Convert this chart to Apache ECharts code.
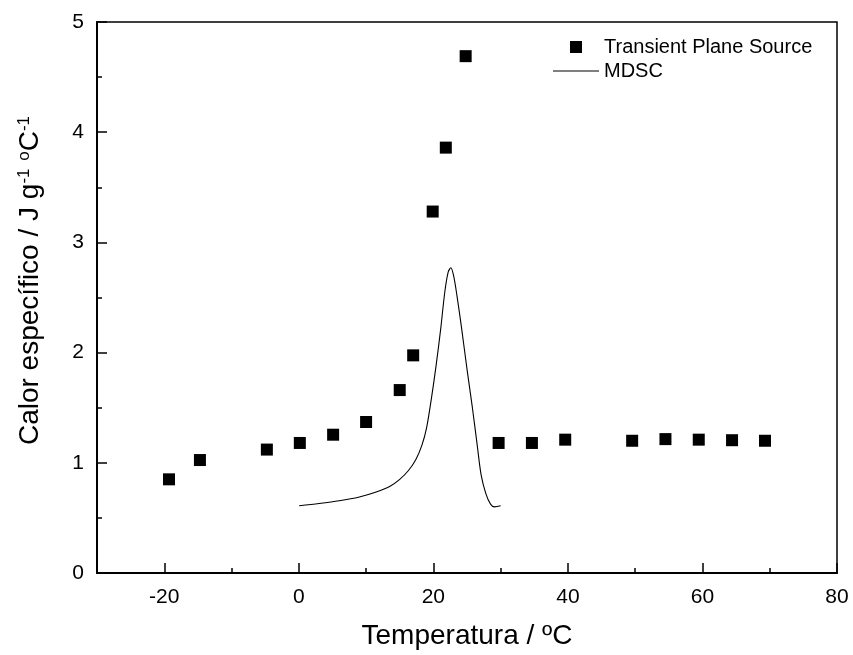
<!DOCTYPE html>
<html>
<head>
<meta charset="utf-8">
<script src="https://cdn.jsdelivr.net/npm/echarts@6/dist/echarts.min.js"></script>
<style>
  html, body { margin: 0; padding: 0; background: #fff; }
  #chart { width: 853px; height: 655px; }
</style>
</head>
<body>
<div id="chart"></div>
<script>
// Transient Plane Source measurements: temperature (ºC) and specific heat (J g-1 ºC-1)
const tpsTemp = [-19.3, -14.7, -4.75, 0.15, 5.1, 10.0, 15.0, 17.0, 19.9, 21.85, 24.8,
                 29.7, 34.65, 39.6, 49.55, 54.5, 59.45, 64.4, 69.3];
const tpsCp   = [0.85, 1.025, 1.12, 1.18, 1.255, 1.37, 1.66, 1.975, 3.28, 3.86, 4.69,
                 1.18, 1.18, 1.21, 1.20, 1.215, 1.21, 1.205, 1.20];

// MDSC trace
const mdscTemp = [0.05, 3.0, 6.0, 9.0, 11.5, 13.5, 15.0, 16.3, 17.4, 18.3, 19.0, 19.7,
                  20.4, 21.1, 21.7, 22.2, 22.6, 23.0, 23.5, 24.2, 25.0, 25.8, 26.5,
                  27.1, 27.8, 28.5, 29.1, 30.0];
const mdscCp   = [0.61, 0.63, 0.655, 0.69, 0.735, 0.785, 0.85, 0.93, 1.03, 1.16, 1.32, 1.58,
                  1.88, 2.22, 2.55, 2.73, 2.77, 2.70, 2.52, 2.22, 1.85, 1.50, 1.17,
                  0.89, 0.72, 0.625, 0.60, 0.61];

// Axis ticks
const xMajorTicks = [-20, 0, 20, 40, 60, 80];
const xMinorTicks = [-10, 10, 30, 50, 70];

const FONT = '"Liberation Sans", Arial, sans-serif';

const chart = echarts.init(document.getElementById('chart'), null, { renderer: 'canvas' });

const zip = (a, b) => a.map((v, i) => [v, b[i]]);

// legend icons: a 12px square centred in a 46px slot, and a thin horizontal rule
const squareIcon = 'path://M0,6L0,6.01M17,0L29,0L29,12L17,12ZM46,6L46,6.01';
const ruleIcon = 'path://M0,0L0,0.01M0,5.4L46,5.4L46,6.6L0,6.6ZM46,12L46,11.99';

chart.setOption({
  backgroundColor: '#fff',
  animation: false,
  textStyle: { fontFamily: FONT, color: '#000' },
  grid: {
    left: 97, right: 16, top: 22, bottom: 81,
    show: true, borderColor: '#000', borderWidth: 1.5, backgroundColor: 'transparent'
  },
  legend: {
    orient: 'vertical',
    left: 553, top: 37,
    padding: 0,
    itemWidth: 46, itemHeight: 12, itemGap: 4,
    textStyle: { fontSize: 20, color: '#000', fontFamily: FONT },
    data: [
      { name: 'Transient Plane Source', icon: squareIcon, itemStyle: { color: '#000', borderWidth: 0, opacity: 1 } },
      { name: 'MDSC', icon: ruleIcon, itemStyle: { color: '#000', borderWidth: 0, opacity: 1 } }
    ]
  },
  xAxis: [
    {
      type: 'value', min: -30, max: 80,
      name: 'Temperatura / ºC',
      nameLocation: 'middle', nameGap: 49,
      nameTextStyle: { fontSize: 28, color: '#000', fontFamily: FONT },
      axisLine: { show: true, onZero: false, lineStyle: { color: '#000', width: 2 } },
      axisTick: { show: true, inside: true, length: 10, customValues: xMajorTicks,
                  lineStyle: { color: '#000', width: 1.5 } },
      axisLabel: { show: true, customValues: xMajorTicks, fontSize: 21, color: '#000',
                   margin: 14, fontFamily: FONT },
      splitLine: { show: false }
    },
    {
      type: 'value', min: -30, max: 80, position: 'bottom',
      axisLine: { show: false, onZero: false },
      axisTick: { show: true, inside: true, length: 5, customValues: xMinorTicks,
                  lineStyle: { color: '#000', width: 1.5 } },
      axisLabel: { show: false },
      splitLine: { show: false }
    }
  ],
  yAxis: {
    type: 'value', min: 0, max: 5, interval: 1,
    name: 'Calor específico / J g{sup|-1} {sup|o}C{sup|-1}',
    nameLocation: 'middle', nameGap: 53,
    nameTextStyle: {
      fontSize: 28, color: '#000', fontFamily: FONT,
      padding: [0, 0, 0, 34],
      rich: {
        sup: { fontSize: 17, color: '#000', fontFamily: FONT, verticalAlign: 'top',
               padding: [0, 0, 10, 0] }
      }
    },
    axisLine: { show: true, onZero: false, lineStyle: { color: '#000', width: 2 } },
    axisTick: { show: true, inside: true, length: 10, lineStyle: { color: '#000', width: 1.5 } },
    minorTick: { show: true, splitNumber: 2, length: 5, lineStyle: { color: '#000', width: 1.5 } },
    axisLabel: { fontSize: 21, color: '#000', margin: 13, fontFamily: FONT },
    splitLine: { show: false }
  },
  series: [
    {
      name: 'Transient Plane Source',
      type: 'scatter',
      symbol: 'rect',
      symbolSize: 12,
      itemStyle: { color: '#000', opacity: 1 },
      data: zip(tpsTemp, tpsCp)
    },
    {
      name: 'MDSC',
      type: 'line',
      symbol: 'none',
      smooth: 0.3,
      lineStyle: { color: '#000', width: 1.1 },
      itemStyle: { color: '#000' },
      data: zip(mdscTemp, mdscCp)
    }
  ]
});
</script>
</body>
</html>
